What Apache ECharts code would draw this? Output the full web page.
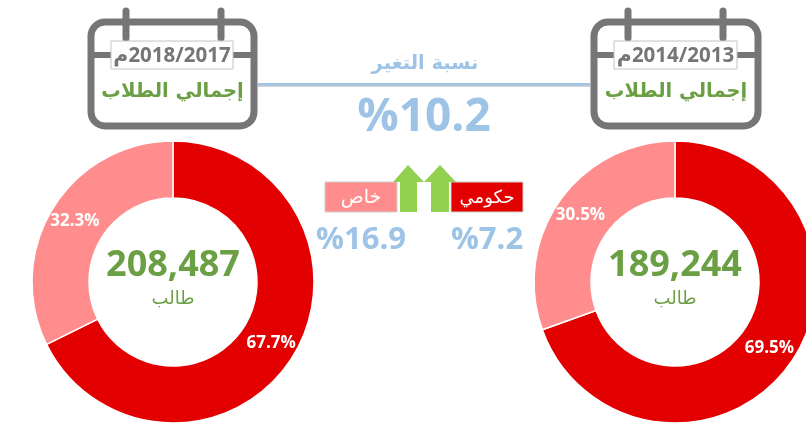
<!DOCTYPE html>
<html><head><meta charset="utf-8">
<script src="https://cdn.jsdelivr.net/npm/echarts@6/dist/echarts.min.js"></script>
<style>html,body{margin:0;padding:0;background:#fff}#c{width:806px;height:424px}</style>
</head><body><div id="c"></div>
<script>
const categories = ['حكومي', 'خاص'];
const share2018 = [67.7, 32.3];
const share2014 = [69.5, 30.5];
const total2018 = '208,487';
const total2014 = '189,244';
const unitLabel = 'طالب';
const periodLeft = '\u200F2018/2017م';
const periodRight = '\u200F2014/2013م';
const calendarTitle = 'إجمالي الطلاب';
const changeTitle = 'نسبة التغير';
const changeTotal = '%10.2';
const changePrivate = '%16.9';
const changePublic = '%7.2';

const RED = '#e20000', PINK = '#ff8d8d', GREEN = '#6a9f44', ARROW = '#92d050', BLUE = '#9dc3e6', GREY = '#767676';
const LATIN = '"Open Sans","DejaVu Sans",sans-serif';
const ARABIC = '"DejaVu Sans","Noto Sans",sans-serif';

function txt(x, y, text, size, fill, weight, family, extra) {
  return { type: 'text', x, y, z: 20, style: Object.assign({ text, fontSize: size, fontWeight: weight || 'bold', fontFamily: family || LATIN, fill, align: 'center', verticalAlign: 'middle' }, extra || {}) };
}
function calendar(x0, x1, peg1, peg2, bx0, bx1, period) {
  const lineStyle = { stroke: GREY, lineWidth: 7, fill: null, lineCap: 'round' };
  return [
    { type: 'rect', z: 5, shape: { x: x0 + 4, y: 22, width: x1 - x0 - 8, height: 104, r: 14 }, style: Object.assign({}, lineStyle, { fill: '#fff' }) },
    { type: 'line', z: 6, shape: { x1: x0 + 4, y1: 55, x2: x1 - 4, y2: 55 }, style: Object.assign({}, lineStyle, { lineWidth: 6, lineCap: 'butt' }) },
    { type: 'line', z: 6, shape: { x1: peg1, y1: 11, x2: peg1, y2: 38 }, style: lineStyle },
    { type: 'line', z: 6, shape: { x1: peg2, y1: 11, x2: peg2, y2: 38 }, style: lineStyle },
    { type: 'rect', z: 7, shape: { x: bx0, y: 41, width: bx1 - bx0, height: 28 }, style: { fill: '#fff', stroke: '#c4c4c4', lineWidth: 1 } },
    txt((bx0 + bx1) / 2, 56, period, 20.5, GREY, 'bold', LATIN),
    txt((x0 + x1) / 2, 92, calendarTitle, 19.5, GREEN, 'bold', ARABIC)
  ];
}
function donut(cx, data) {
  return {
    type: 'pie', center: [cx, 282], radius: [84, 141], startAngle: 90, clockwise: true, silent: true,
    data: categories.map((name, i) => ({ name, value: data[i], itemStyle: { color: i ? PINK : RED } })),
    itemStyle: { borderColor: '#fff', borderWidth: 1.5 },
    label: { position: 'inside', formatter: p => p.value.toFixed(1) + '%', color: '#fff', fontSize: 17, fontWeight: 'bold', fontFamily: LATIN },
    labelLine: { show: false }
  };
}
const chart = echarts.init(document.getElementById('c'), null, { renderer: 'canvas' });
chart.setOption({
  animation: false,
  backgroundColor: '#fff',
  series: [donut(173, share2018), donut(675, share2014)],
  graphic: [
    { type: 'rect', z: 1, shape: { x: 258, y: 83, width: 332, height: 4 }, style: { fill: '#d0d0d0' } },
    { type: 'rect', z: 2, shape: { x: 258, y: 83, width: 332, height: 2.5 }, style: { fill: BLUE } },
    ...calendar(87, 258, 126, 221, 111, 233, periodLeft),
    ...calendar(590, 762, 628, 723, 614, 737, periodRight),
    txt(425, 64, changeTitle, 19.5, BLUE, 'bold', ARABIC),
    txt(424, 118, changeTotal, 46, BLUE),
    { type: 'rect', z: 5, shape: { x: 325, y: 182, width: 72, height: 30 }, style: { fill: PINK, stroke: '#cfcfcf', lineWidth: 1 } },
    { type: 'rect', z: 5, shape: { x: 451, y: 182, width: 72, height: 30 }, style: { fill: RED, stroke: '#cfcfcf', lineWidth: 1 } },
    { type: 'polygon', z: 6, shape: { points: [[408, 165], [424, 182], [417, 182], [417, 212], [400, 212], [400, 182], [393, 182]] }, style: { fill: ARROW } },
    { type: 'polygon', z: 6, shape: { points: [[440, 165], [456, 182], [449, 182], [449, 212], [431, 212], [431, 182], [424, 182]] }, style: { fill: ARROW } },
    txt(361, 198, categories[1], 19, '#fff', 'normal', ARABIC),
    txt(487, 198, categories[0], 18, '#fff', 'normal', ARABIC),
    txt(361, 240, changePrivate, 31, BLUE),
    txt(487, 240, changePublic, 31, BLUE),
    txt(173, 266, total2018, 36, GREEN),
    txt(173, 299, unitLabel, 18, GREEN, 'normal', ARABIC),
    txt(675, 266, total2014, 36, GREEN),
    txt(675, 299, unitLabel, 18, GREEN, 'normal', ARABIC)
  ]
});
</script></body></html>
